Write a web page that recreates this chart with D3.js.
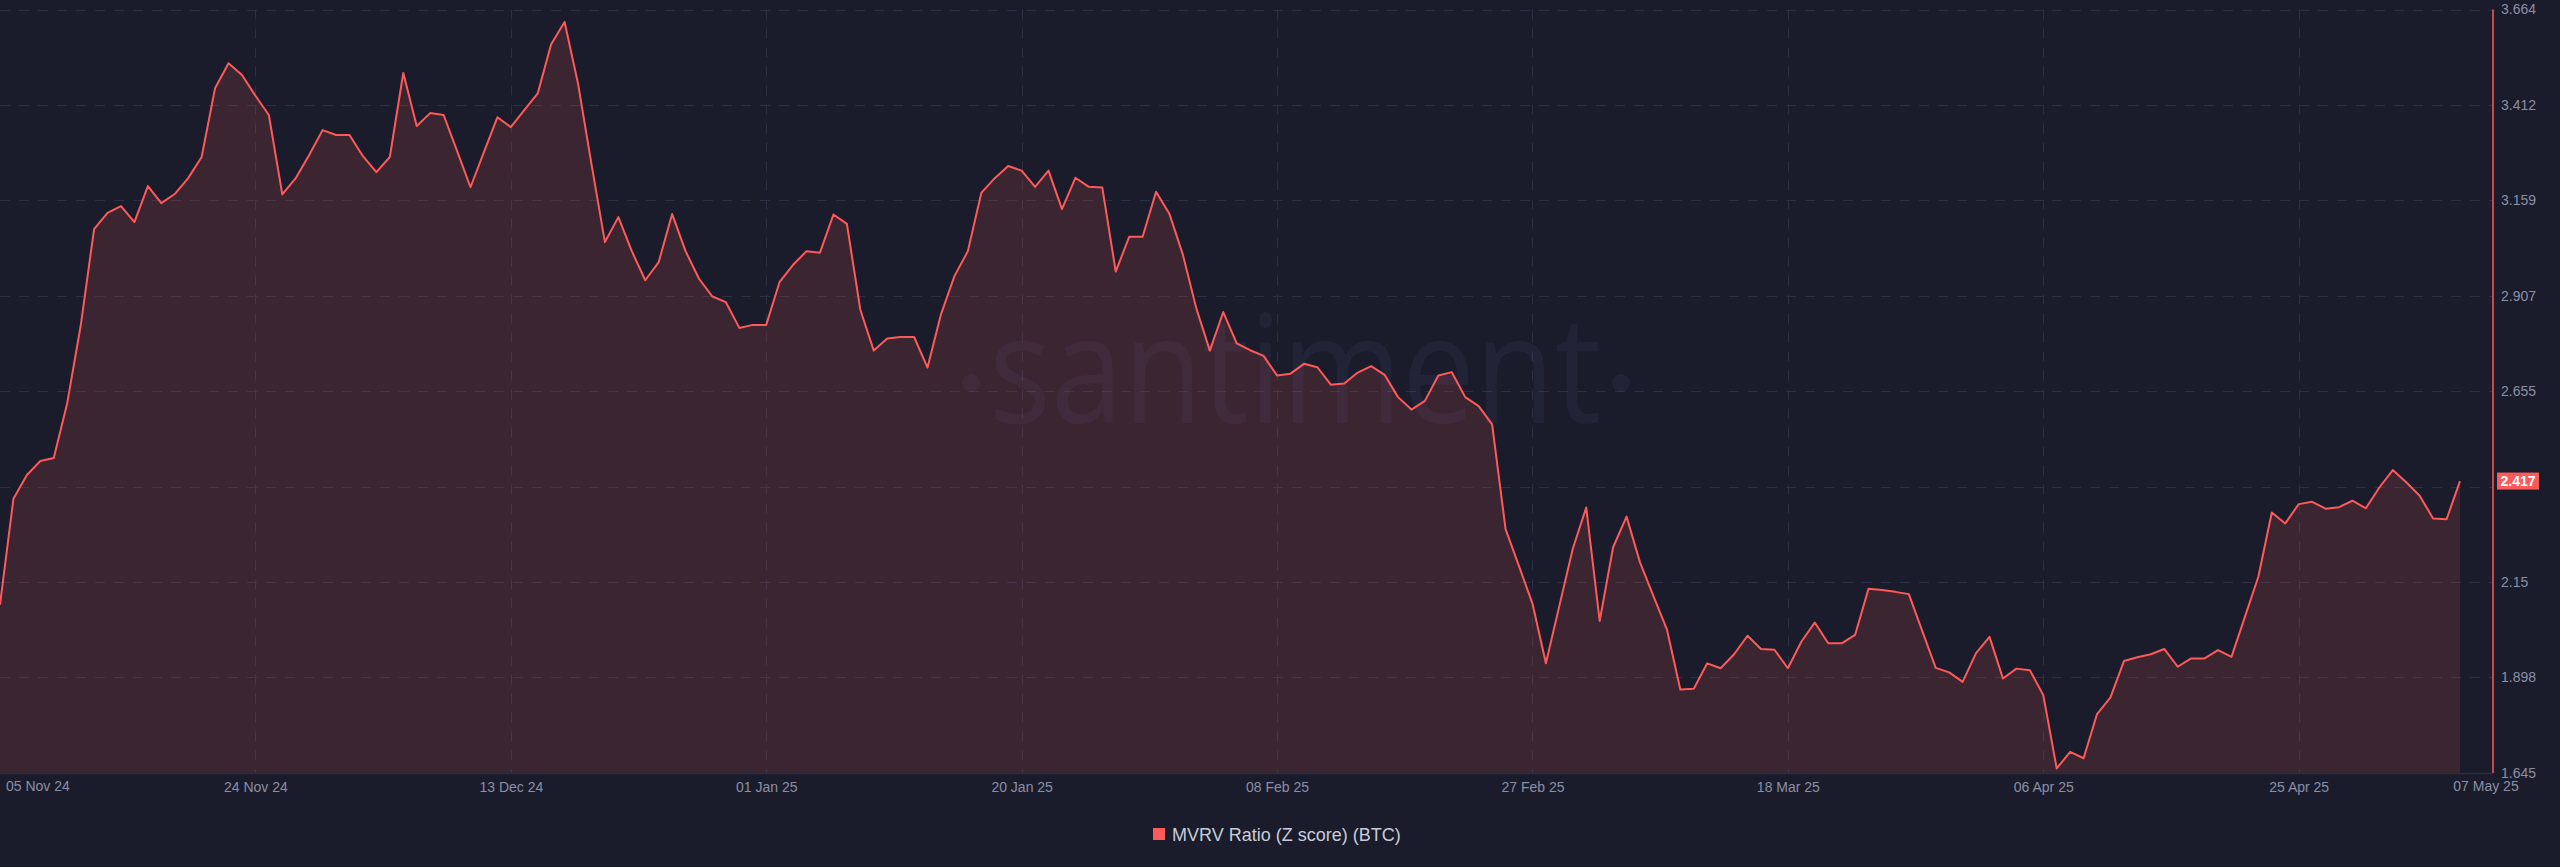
<!DOCTYPE html>
<html>
<head>
<meta charset="utf-8">
<script src="https://cdn.jsdelivr.net/npm/d3@7/dist/d3.min.js"></script>
<style>
  html, body { margin: 0; padding: 0; background: #1a1c2b; }
  svg { display: block; }
</style>
</head>
<body>
<svg id="chart" width="2560" height="867"></svg>
<script>
// ---------- DATA ----------
const startDate = "2024-11-05";
const seriesName = "MVRV Ratio (Z score) (BTC)";
const mvrvValues = [
  2.090, 2.370, 2.433, 2.470, 2.478, 2.623, 2.827, 3.083, 3.126, 3.144,
  3.102, 3.197, 3.152, 3.176, 3.218, 3.274, 3.456, 3.522, 3.491, 3.436,
  3.385, 3.175, 3.218, 3.279, 3.345, 3.332, 3.332, 3.276, 3.234, 3.274,
  3.496, 3.356, 3.390, 3.385, 3.290, 3.194, 3.287, 3.379, 3.353, 3.398,
  3.442, 3.572, 3.631, 3.468, 3.255, 3.049, 3.115, 3.025, 2.948, 2.996,
  3.123, 3.025, 2.952, 2.905, 2.890, 2.822, 2.830, 2.830, 2.944, 2.989,
  3.025, 3.021, 3.122, 3.097, 2.870, 2.762, 2.794, 2.798, 2.798, 2.717,
  2.858, 2.959, 3.025, 3.179, 3.218, 3.250, 3.238, 3.195, 3.238, 3.136,
  3.219, 3.195, 3.193, 2.971, 3.063, 3.063, 3.182, 3.123, 3.015, 2.873,
  2.762, 2.864, 2.781, 2.763, 2.748, 2.696, 2.701, 2.727, 2.718, 2.672,
  2.675, 2.704, 2.721, 2.698, 2.639, 2.606, 2.629, 2.696, 2.705, 2.639,
  2.615, 2.567, 2.290, 2.192, 2.093, 1.935, 2.087, 2.238, 2.347, 2.047,
  2.242, 2.323, 2.202, 2.113, 2.025, 1.866, 1.868, 1.935, 1.922, 1.959,
  2.008, 1.973, 1.971, 1.922, 1.992, 2.043, 1.988, 1.988, 2.010, 2.132,
  2.129, 2.124, 2.118, 2.020, 1.923, 1.911, 1.886, 1.962, 2.005, 1.895,
  1.921, 1.917, 1.851, 1.657, 1.701, 1.684, 1.801, 1.845, 1.941, 1.951,
  1.959, 1.973, 1.926, 1.948, 1.948, 1.970, 1.952, 2.058, 2.164, 2.334,
  2.305, 2.356, 2.362, 2.344, 2.348, 2.365, 2.345, 2.400, 2.446, 2.414,
  2.378, 2.318, 2.316, 2.417
];
const yTickValues = [1.645, 1.898, 2.15, 2.402, 2.655, 2.907, 3.159, 3.412, 3.664];
const yTickLabels = ["1.645", "1.898", "2.15", "2.402", "2.655", "2.907", "3.159", "3.412", "3.664"];
const xTickDates = ["2024-11-24", "2024-12-13", "2025-01-01", "2025-01-20", "2025-02-08",
                    "2025-02-27", "2025-03-18", "2025-04-06", "2025-04-25"];
const xTickLabels = ["24 Nov 24", "13 Dec 24", "01 Jan 25", "20 Jan 25", "08 Feb 25",
                     "27 Feb 25", "18 Mar 25", "06 Apr 25", "25 Apr 25"];
const xEdgeLabels = ["05 Nov 24", "07 May 25"];
const lastValueLabel = "2.417";

// ---------- LAYOUT / STYLE ----------
const W = 2560, H = 867;
const plotLeft = 0, dataRight = 2460, axisX = 2493;
const plotTop = 9.5, plotBottom = 773;
const colBg = "#1a1c2b";
const colLine = "#ff5a5a";
const colGrid = "#2c2f45";
const colText = "#8a8fa6";

const parse = d3.utcParse("%Y-%m-%d");
const t0 = parse(startDate);
const data = mvrvValues.map((v, i) => ({ date: d3.utcDay.offset(t0, i), value: v }));

const x = d3.scaleUtc()
  .domain([data[0].date, data[data.length - 1].date])
  .range([plotLeft, dataRight]);
const y = d3.scaleLinear()
  .domain([yTickValues[0], yTickValues[yTickValues.length - 1]])
  .range([plotBottom, plotTop]);

const svg = d3.select("#chart");
svg.append("rect").attr("width", W).attr("height", H).attr("fill", colBg);

// grid
const grid = svg.append("g");
grid.selectAll("line.h").data(yTickValues.slice(1)).join("line")
  .attr("x1", plotLeft).attr("x2", axisX)
  .attr("y1", d => Math.round(y(d)) + 0.5).attr("y2", d => Math.round(y(d)) + 0.5)
  .attr("stroke", colGrid).attr("stroke-width", 1).attr("stroke-dasharray", "10,9");
grid.selectAll("line.v").data(xTickDates.map(parse)).join("line")
  .attr("x1", d => Math.round(x(d)) + 0.5).attr("x2", d => Math.round(x(d)) + 0.5)
  .attr("y1", plotTop).attr("y2", plotBottom)
  .attr("stroke", colGrid).attr("stroke-width", 1).attr("stroke-dasharray", "10,9");

// watermark
const wm = svg.append("g").attr("fill", "rgba(120,130,190,0.085)");
wm.append("text")
  .attr("x", 989).attr("y", 423)
  .attr("font-family", "'Open Sans', sans-serif")
  .attr("font-size", 150)
  .attr("textLength", 612).attr("lengthAdjust", "spacingAndGlyphs")
  .text("santiment");
wm.append("circle").attr("cx", 971).attr("cy", 383).attr("r", 9);
wm.append("circle").attr("cx", 1621).attr("cy", 383).attr("r", 9);

// area + line
const area = d3.area().x(d => x(d.date)).y0(plotBottom).y1(d => y(d.value));
const line = d3.line().x(d => x(d.date)).y(d => y(d.value));
svg.append("path").datum(data).attr("d", area).attr("fill", "rgba(255,90,90,0.14)");
svg.append("path").datum(data).attr("d", line)
  .attr("fill", "none").attr("stroke", colLine).attr("stroke-width", 2)
  .attr("stroke-linejoin", "round");

// bottom border
svg.append("line").attr("x1", plotLeft).attr("x2", axisX)
  .attr("y1", plotBottom + 0.5).attr("y2", plotBottom + 0.5)
  .attr("stroke", "#2a2e42").attr("stroke-width", 1.5);

// right axis (the tick label hidden by the last-value badge is left blank, as in the source)
const lastVal = data[data.length - 1].value;
const lastY = y(lastVal);
const yAxis = d3.axisRight(y).tickValues(yTickValues)
  .tickFormat((d, i) => Math.abs(y(d) - lastY) < 14 ? "" : yTickLabels[i])
  .tickSize(0).tickPadding(8);
const gy = svg.append("g").attr("transform", `translate(${axisX},0)`).call(yAxis);
gy.select(".domain").remove();
gy.selectAll("text").attr("fill", colText)
  .attr("font-family", "'Liberation Sans', Arial, sans-serif").attr("font-size", 14);
svg.append("line").attr("x1", axisX).attr("x2", axisX)
  .attr("y1", plotTop).attr("y2", plotBottom)
  .attr("stroke", colLine).attr("stroke-width", 1.5);

// bottom axis
const xAxis = d3.axisBottom(x).tickValues(xTickDates.map(parse))
  .tickFormat((d, i) => xTickLabels[i]).tickSize(0).tickPadding(9);
const gx = svg.append("g").attr("transform", `translate(0,${plotBottom})`).call(xAxis);
gx.select(".domain").remove();
gx.selectAll("text").attr("fill", colText)
  .attr("font-family", "'Liberation Sans', Arial, sans-serif").attr("font-size", 14);
const edge = svg.append("g").attr("fill", colText)
  .attr("font-family", "'Liberation Sans', Arial, sans-serif").attr("font-size", 14);
edge.append("text").attr("x", x(data[0].date) + 6).attr("y", 791)
  .attr("text-anchor", "start").text(xEdgeLabels[0]);
edge.append("text").attr("x", x(data[data.length - 1].date) + 26).attr("y", 791)
  .attr("text-anchor", "middle").text(xEdgeLabels[1]);

// last value badge
svg.append("rect").attr("x", axisX + 4).attr("y", lastY - 8.5)
  .attr("width", 42).attr("height", 17).attr("fill", colLine);
svg.append("text").attr("x", axisX + 25).attr("y", lastY).attr("dy", "0.35em")
  .attr("text-anchor", "middle").attr("fill", "#ffffff")
  .attr("font-family", "'Liberation Sans', Arial, sans-serif")
  .attr("font-weight", "bold").attr("font-size", 14)
  .text(lastValueLabel);

// legend
const lg = svg.append("g");
lg.append("rect").attr("x", 1153).attr("y", 828).attr("width", 12).attr("height", 12).attr("fill", colLine);
lg.append("text").attr("x", 1172).attr("y", 834.5).attr("dy", "0.35em")
  .attr("fill", "#c9ccd8")
  .attr("font-family", "'Liberation Sans', Arial, sans-serif").attr("font-size", 18)
  .text(seriesName);
</script>
</body>
</html>
